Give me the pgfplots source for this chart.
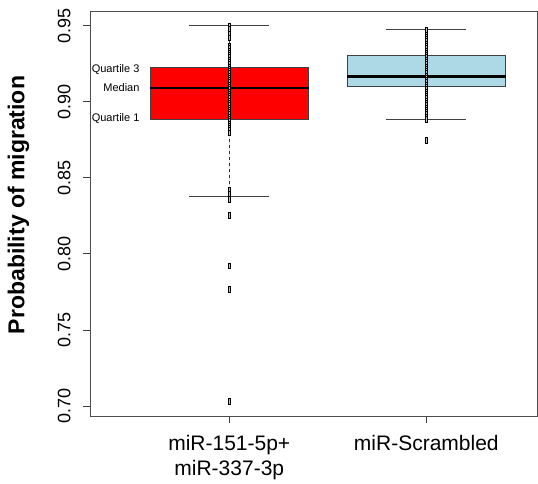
\documentclass[border=0pt]{standalone}
\usepackage{pgfplots}
\pgfplotsset{compat=1.18}
\usepgfplotslibrary{statistics}
\usepackage{fontspec}
\setmainfont{Liberation Sans}
\definecolor{boxblue}{HTML}{ADD8E6}
\pgfplotsset{
  boxplot/draw/lower whisker/.code={%
    \draw[dashed, black!80, line width=0.6bp]
      (boxplot cs:\pgfplotsboxplotvalue{lower whisker}) -- (boxplot cs:\pgfplotsboxplotvalue{lower quartile});
    \draw[black!75, line width=0.8bp]
      (boxplot whisker cs:\pgfplotsboxplotvalue{lower whisker},0) -- (boxplot whisker cs:\pgfplotsboxplotvalue{lower whisker},1);
  },
  boxplot/draw/upper whisker/.code={%
    \draw[dashed, black!80, line width=0.6bp]
      (boxplot cs:\pgfplotsboxplotvalue{upper quartile}) -- (boxplot cs:\pgfplotsboxplotvalue{upper whisker});
    \draw[black!75, line width=0.8bp]
      (boxplot whisker cs:\pgfplotsboxplotvalue{upper whisker},0) -- (boxplot whisker cs:\pgfplotsboxplotvalue{upper whisker},1);
  },
}
\begin{document}
\begin{tikzpicture}
\begin{axis}[
  scale only axis,
  width=447bp, height=405bp,
  xmin=0.293, xmax=2.562,
  ymin=0.6934, ymax=0.9597,
  xtick={1,2},
  xticklabels={{miR-151-5p+\\miR-337-3p},{miR-Scrambled}},
  xticklabel style={align=center, font=\fontsize{21bp}{25bp}\selectfont},
  xticklabel shift=9bp,
  ytick={0.70,0.75,0.80,0.85,0.90,0.95},
  yticklabels={0.70,0.75,0.80,0.85,0.90,0.95},
  yticklabel style={rotate=90, anchor=south, font=\fontsize{18bp}{20bp}\selectfont},
  yticklabel shift=9bp,
  tick align=outside,
  tick pos=left,
  major tick length=7bp,
  every tick/.style={black!75, line width=0.8bp},
  axis line style={black!70, line width=0.8bp},
  /pgf/number format/assume math mode=true,
  ylabel={Probability of migration},
  every axis y label/.style={at={(axis description cs:-0.16,0.521)}, rotate=90, anchor=center, font=\bfseries\fontsize{23bp}{26bp}\selectfont},
  boxplot/draw direction=y,
  boxplot/box extend=0.805,
  boxplot/whisker extend=0.404,
  boxplot/every median/.style={line width=2.4bp, black},
]
\addplot[draw=black!75, line width=0.7bp, fill=red,
  boxplot prepared={draw position=1, lower whisker=0.838, lower quartile=0.8884,
    median=0.909, upper quartile=0.9226, upper whisker=0.95}]
  coordinates {};
\addplot[draw=black!75, line width=0.7bp, fill=boxblue,
  boxplot prepared={draw position=2, lower whisker=0.8886, lower quartile=0.9103,
    median=0.9167, upper quartile=0.9303, upper whisker=0.9476}]
  coordinates {};
\addplot[only marks, mark=square*, mark size=1.3bp,
  mark options={draw=black, fill=black!25, line width=0.9bp, yscale=2.2}]
  coordinates {
  (1,0.9495)(1,0.9475)(1,0.9445)(1,0.9420)
  (1,0.9365)(1,0.9350)(1,0.9335)(1,0.9320)(1,0.9305)(1,0.9290)(1,0.9275)(1,0.9260)
  (1,0.9245)(1,0.9230)(1,0.9215)(1,0.9200)(1,0.9185)(1,0.9170)(1,0.9155)(1,0.9140)
  (1,0.9125)(1,0.9110)(1,0.9095)(1,0.9080)(1,0.9065)(1,0.9050)(1,0.9035)(1,0.9020)
  (1,0.9005)(1,0.8990)(1,0.8975)(1,0.8960)(1,0.8945)(1,0.8930)(1,0.8915)(1,0.8900)
  (1,0.8885)(1,0.8870)(1,0.8855)(1,0.8840)(1,0.8825)(1,0.8810)(1,0.8795)
  (1,0.8420)(1,0.8390)(1,0.8360)(1,0.8255)(1,0.7920)(1,0.7766)(1,0.7030)
  };
\addplot[only marks, mark=square*, mark size=1.3bp,
  mark options={draw=black, fill=black!25, line width=0.9bp, yscale=2.2}]
  coordinates {
  (2,0.9470)(2,0.9440)(2,0.9425)(2,0.9410)(2,0.9395)(2,0.9380)(2,0.9365)(2,0.9350)
  (2,0.9335)(2,0.9320)(2,0.9305)(2,0.9290)(2,0.9275)(2,0.9260)(2,0.9245)(2,0.9230)
  (2,0.9215)(2,0.9200)(2,0.9185)(2,0.9170)(2,0.9155)(2,0.9140)(2,0.9125)(2,0.9110)
  (2,0.9095)(2,0.9080)(2,0.9065)(2,0.9050)(2,0.9035)(2,0.9020)(2,0.9005)(2,0.8990)
  (2,0.8975)(2,0.8960)(2,0.8945)(2,0.8930)(2,0.8915)(2,0.8900)(2,0.8885)(2,0.8746)
  };
\node[anchor=east, font=\fontsize{11bp}{13bp}\selectfont] at (axis cs:0.562,0.9215) {Quartile 3};
\node[anchor=east, font=\fontsize{11bp}{13bp}\selectfont] at (axis cs:0.562,0.9092) {Median};
\node[anchor=east, font=\fontsize{11bp}{13bp}\selectfont] at (axis cs:0.562,0.8888) {Quartile 1};
\end{axis}
\path ([xshift=-90bp,yshift=-64bp]current axis.south west) rectangle ([xshift=1bp,yshift=11bp]current axis.north east);
\end{tikzpicture}
\end{document}
